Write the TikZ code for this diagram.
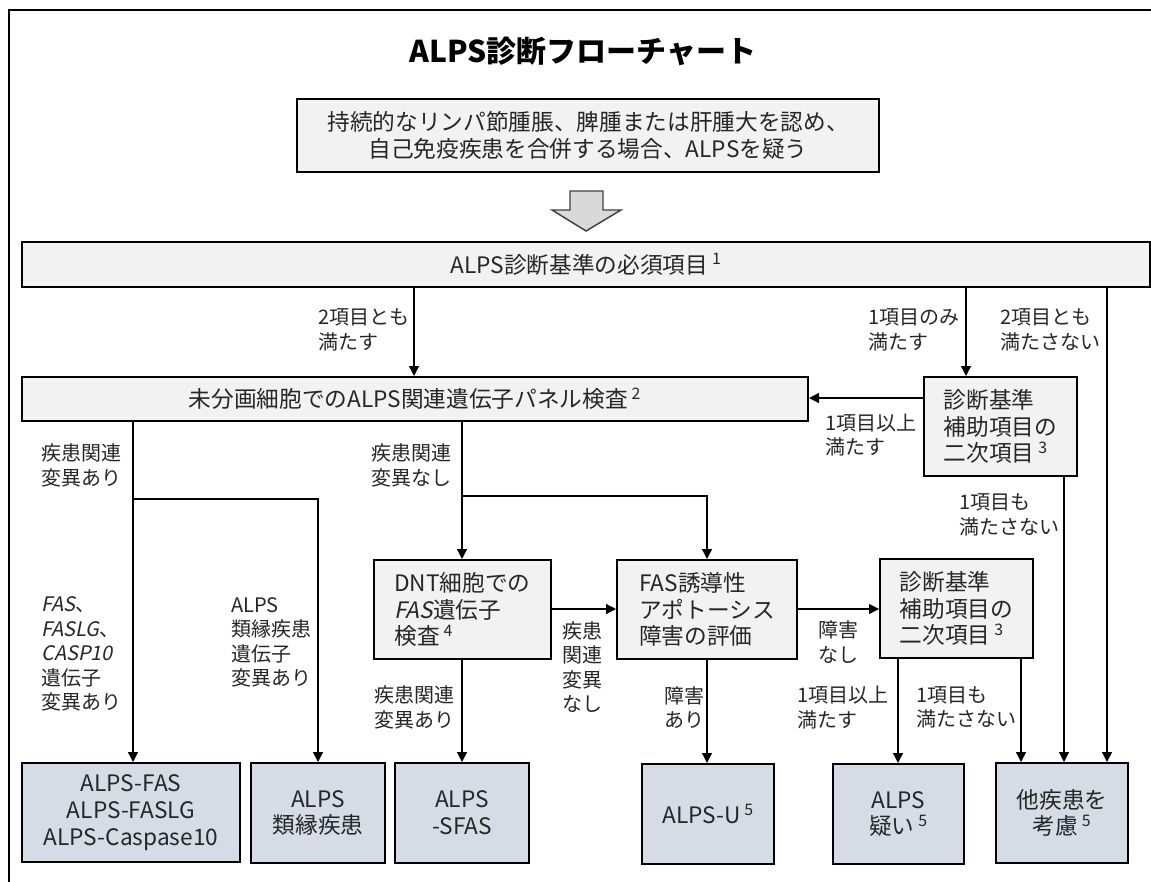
\documentclass[tikz,border=0pt]{standalone}
\usepackage{fontspec}
\setmainfont{Noto Sans CJK JP}
\newfontfamily\slfont{Noto Sans CJK JP}[FakeSlant=0.2]
\usetikzlibrary{arrows.meta}
\definecolor{boxgray}{HTML}{F2F2F2}
\definecolor{boxblue}{HTML}{D6DCE5}
\definecolor{txt}{HTML}{262626}
\definecolor{arrowfill}{HTML}{D9D9D9}
\definecolor{arrowline}{HTML}{404040}
\newcommand{\supmark}[1]{\,\textsuperscript{#1}}
\newcommand{\gene}[1]{{\slfont #1}}
\tikzset{
  box/.style={draw=black, line width=1.5pt, fill=boxgray, text=txt,
    font=\fontsize{17}{20}\selectfont, inner sep=0pt, align=center},
  res/.style={box, fill=boxblue},
  lab/.style={text=txt, font=\fontsize{15}{18.3}\selectfont, inner sep=0pt,
    align=left, anchor=west},
  arr/.style={line width=1pt, -{Triangle[width=7.5pt,length=7.5pt]}},
  frame/.style={line width=1.5pt},
}
\begin{document}
\begin{tikzpicture}[x=0.75pt,y=-0.75pt]
\useasboundingbox (0,0) rectangle (1151,881);
% outer frame (only top and left edges visible)
\draw[frame] (1160,10) -- (9,10) -- (9,890);

% title
\node[font=\fontsize{22.5}{26}\selectfont\bfseries] (title) at (583,51) {ALPS診断フローチャート};

% boxes
\node[box, minimum width=436.5pt, minimum height=54.75pt] (start) at (588,135.5)
  {持続的なリンパ節腫脹、脾腫または肝腫大を認め、\\自己免疫疾患を合併する場合、ALPSを疑う};

% big block arrow
\draw[fill=arrowfill, draw=arrowline, line width=1.1pt, line join=miter]
  (570,191) -- (603,191) -- (603,210) -- (621,210) -- (586,231) -- (552,210) -- (570,210) -- cycle;

\node[box, minimum width=846pt, minimum height=33.75pt] (req) at (586,264.5)
  {ALPS診断基準の必須項目\supmark{1}};

\node[box, minimum width=589.5pt, minimum height=33pt] (panel) at (415,399)
  {未分画細胞でのALPS関連遺伝子パネル検査\supmark{2}};

\node[box, align=left, minimum width=114.75pt, minimum height=74.25pt] (sec1) at (1000.5,426.5)
  {診断基準\\補助項目の\\二次項目\supmark{3}};

\node[box, align=left, minimum width=132.75pt, minimum height=74.25pt] (dnt) at (462.5,609.5)
  {DNT細胞での\\\gene{FAS}遺伝子\\検査\supmark{4}};

\node[box, align=left, minimum width=135pt, minimum height=74.25pt] (fas) at (707,609.5)
  {FAS誘導性\\アポトーシス\\障害の評価};

\node[box, align=left, minimum width=114.75pt, minimum height=74.25pt] (sec2) at (956.5,608.5)
  {診断基準\\補助項目の\\二次項目\supmark{3}};

% result boxes
\node[res, minimum width=163.5pt, minimum height=74.25pt] (b1) at (131,812.5)
  {ALPS-FAS\\ALPS-FASLG\\ALPS-Caspase10};
\node[res, minimum width=100.5pt, minimum height=75pt] (b2) at (318,813)
  {ALPS\\類縁疾患};
\node[res, minimum width=100.5pt, minimum height=75pt] (b3) at (462,813)
  {ALPS\\-SFAS};
\node[res, minimum width=99pt, minimum height=75pt] (b4) at (708,814)
  {ALPS-U\supmark{5}};
\node[res, minimum width=98.25pt, minimum height=75pt] (b5) at (898.5,814)
  {ALPS\\疑い\supmark{5}};
\node[res, minimum width=99pt, minimum height=75pt] (b6) at (1062,813)
  {他疾患を\\考慮\supmark{5}};

% connectors
\draw[arr] (req.south -| 414,0) -- (panel.north -| 414,0);
\draw[arr] (req.south -| 966,0) -- (sec1.north -| 966,0);
\draw[arr] (req.south -| 1107,0) -- (b6.north -| 1107,0);
\draw[arr] (sec1.west |- 0,398) -- (panel.east |- 0,398);
\draw[arr] (sec1.south -| 1064,0) -- (b6.north -| 1064,0);

\coordinate (j1) at (133,499);
\draw[arr] (panel.south -| 133,0) -- (b1.north -| 133,0);
\draw[arr] (j1) -| (b2.north);

\coordinate (j2) at (462,496);
\draw[arr] (panel.south -| 462,0) -- (dnt.north -| 462,0);
\draw[arr] (j2) -| (fas.north);

\draw[arr] (dnt.south -| 462,0) -- (b3.north -| 462,0);
\draw[arr] (dnt.east |- 0,609) -- (fas.west |- 0,609);
\draw[arr] (fas.south -| 707,0) -- (b4.north -| 707,0);
\draw[arr] (fas.east |- 0,609) -- (sec2.west |- 0,609);
\draw[arr] (sec2.south -| 898,0) -- (b5.north -| 898,0);
\draw[arr] (sec2.south -| 1021,0) -- (b6.north -| 1021,0);

% labels
\node[lab] (l1) at (318,330) {2項目とも\\満たす};
\node[lab] (l2) at (868,330) {1項目のみ\\満たす};
\node[lab] (l3) at (1000,330) {2項目とも\\満たさない};
\node[lab] (l4) at (825,435) {1項目以上\\満たす};
\node[lab] (l5) at (959,515) {1項目も\\満たさない};
\node[lab] (l6) at (41,465.5) {疾患関連\\変異あり};
\node[lab] (l7) at (371,465.5) {疾患関連\\変異なし};
\node[lab] (l8) at (41,654) {\gene{FAS}、\\\gene{FASLG}、\\\gene{CASP10}\\遺伝子\\変異あり};
\node[lab] (l9) at (231,642.5) {ALPS\\類縁疾患\\遺伝子\\変異あり};
\node[lab] (l10) at (562,667) {疾患\\関連\\変異\\なし};
\node[lab] (l11) at (818,642) {障害\\なし};
\node[lab] (l12) at (374,707.5) {疾患関連\\変異あり};
\node[lab] (l13) at (664,707.5) {障害\\あり};
\node[lab] (l14) at (797,707.5) {1項目以上\\満たす};
\node[lab] (l15) at (916,707.5) {1項目も\\満たさない};
\end{tikzpicture}
\end{document}
